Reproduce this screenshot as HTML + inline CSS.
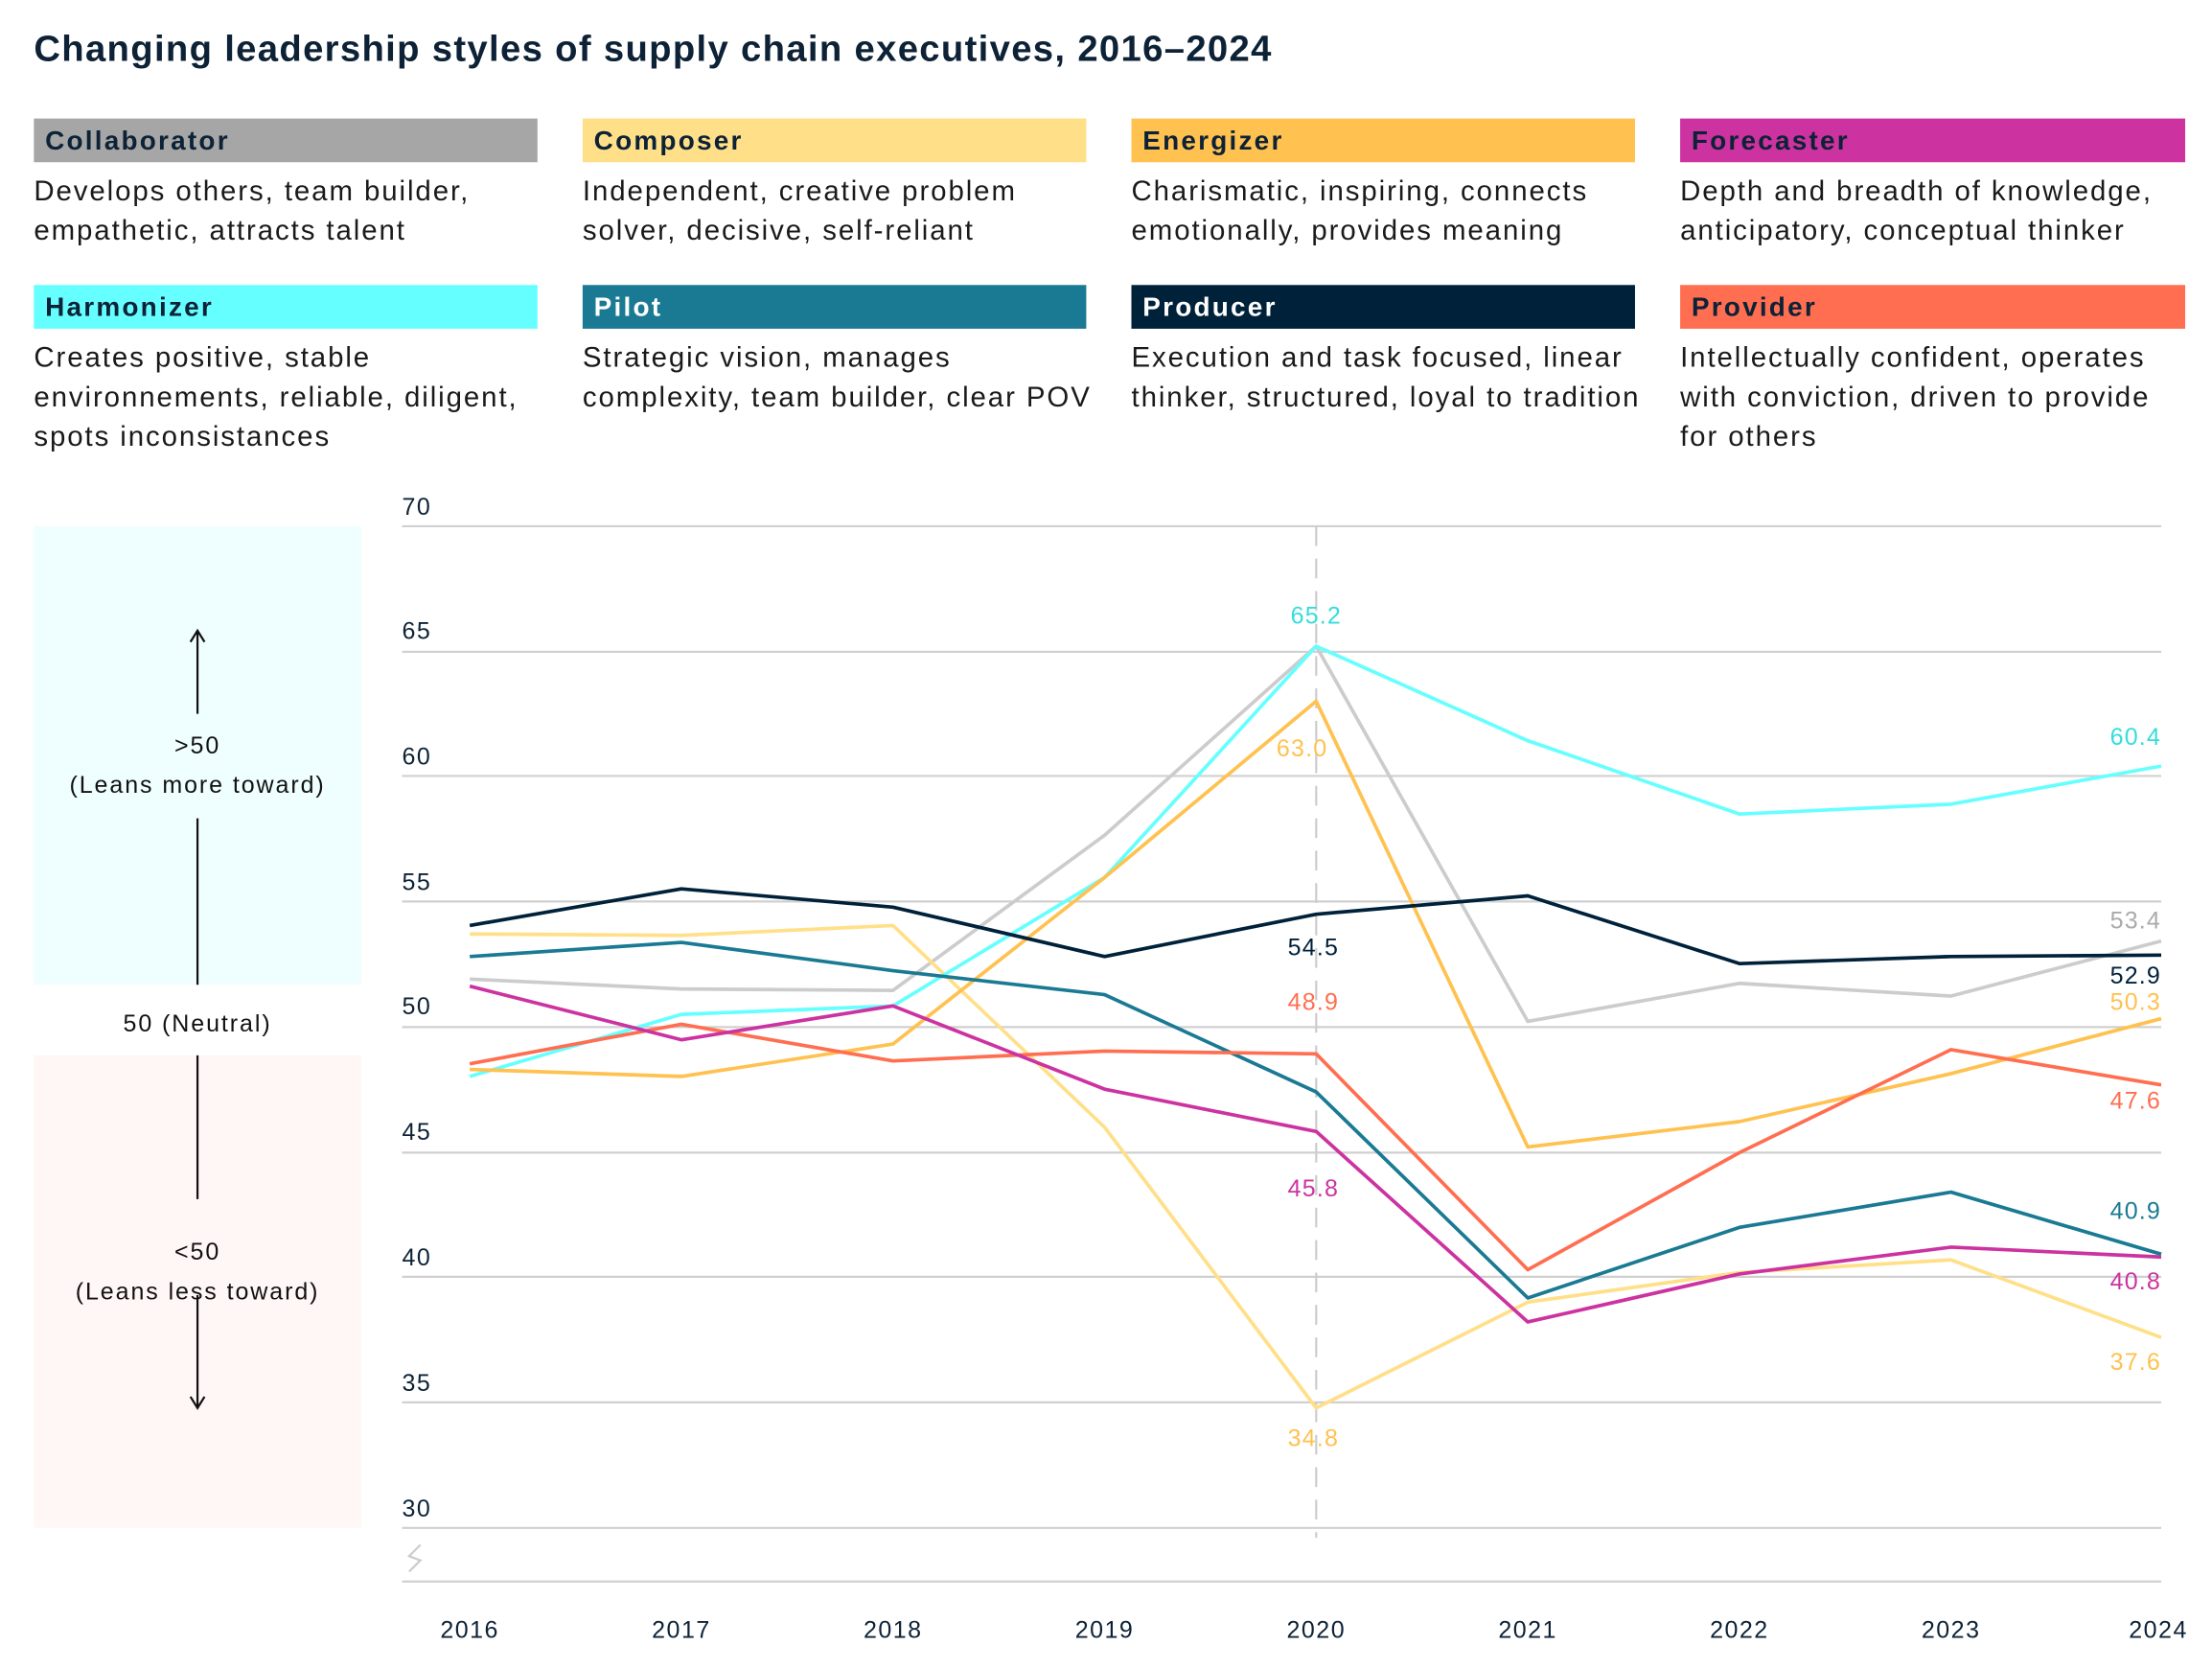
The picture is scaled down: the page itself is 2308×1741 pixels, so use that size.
<!DOCTYPE html>
<html><head><meta charset="utf-8"><style>
html,body{margin:0;padding:0;background:#fff;}
svg{display:block;font-family:"Liberation Sans",sans-serif;}
</style></head><body>
<svg width="2308" height="1741" viewBox="0 0 1568 1183" preserveAspectRatio="none">
<text x="24" y="43" font-size="26" font-weight="bold" fill="#0d2236" letter-spacing="0.9">Changing leadership styles of supply chain executives, 2016–2024</text>
<g font-size="20" letter-spacing="1.3">
<rect x="24" y="84" width="357" height="31" fill="#a6a6a6"/><text x="32" y="106" font-weight="bold" fill="#0d2236" font-size="19" letter-spacing="1.5">Collaborator</text>
<text x="24" y="142" fill="#1a1a1a">Develops others, team builder,</text><text x="24" y="170" fill="#1a1a1a">empathetic, attracts talent</text>
<rect x="413" y="84" width="357" height="31" fill="#ffdf88"/><text x="421" y="106" font-weight="bold" fill="#0d2236" font-size="19" letter-spacing="1.5">Composer</text>
<text x="413" y="142" fill="#1a1a1a">Independent, creative problem</text><text x="413" y="170" fill="#1a1a1a">solver, decisive, self-reliant</text>
<rect x="802" y="84" width="357" height="31" fill="#ffc150"/><text x="810" y="106" font-weight="bold" fill="#0d2236" font-size="19" letter-spacing="1.5">Energizer</text>
<text x="802" y="142" fill="#1a1a1a">Charismatic, inspiring, connects</text><text x="802" y="170" fill="#1a1a1a">emotionally, provides meaning</text>
<rect x="1191" y="84" width="358" height="31" fill="#cc33a0"/><text x="1199" y="106" font-weight="bold" fill="#0d2236" font-size="19" letter-spacing="1.5">Forecaster</text>
<text x="1191" y="142" fill="#1a1a1a">Depth and breadth of knowledge,</text><text x="1191" y="170" fill="#1a1a1a">anticipatory, conceptual thinker</text>
<rect x="24" y="202" width="357" height="31" fill="#66ffff"/><text x="32" y="224" font-weight="bold" fill="#0d2236" font-size="19" letter-spacing="1.5">Harmonizer</text>
<text x="24" y="260" fill="#1a1a1a">Creates positive, stable</text><text x="24" y="288" fill="#1a1a1a">environnements, reliable, diligent,</text><text x="24" y="316" fill="#1a1a1a">spots inconsistances</text>
<rect x="413" y="202" width="357" height="31" fill="#1a7a93"/><text x="421" y="224" font-weight="bold" fill="#fff" font-size="19" letter-spacing="1.5">Pilot</text>
<text x="413" y="260" fill="#1a1a1a">Strategic vision, manages</text><text x="413" y="288" fill="#1a1a1a">complexity, team builder, clear POV</text>
<rect x="802" y="202" width="357" height="31" fill="#00213a"/><text x="810" y="224" font-weight="bold" fill="#fff" font-size="19" letter-spacing="1.5">Producer</text>
<text x="802" y="260" fill="#1a1a1a">Execution and task focused, linear</text><text x="802" y="288" fill="#1a1a1a">thinker, structured, loyal to tradition</text>
<rect x="1191" y="202" width="358" height="31" fill="#ff6e50"/><text x="1199" y="224" font-weight="bold" fill="#0d2236" font-size="19" letter-spacing="1.5">Provider</text>
<text x="1191" y="260" fill="#1a1a1a">Intellectually confident, operates</text><text x="1191" y="288" fill="#1a1a1a">with conviction, driven to provide</text><text x="1191" y="316" fill="#1a1a1a">for others</text>
</g>
<rect x="24" y="373" width="232" height="325" fill="#effefe"/>
<rect x="24" y="748" width="232" height="335" fill="#fff7f6"/>
<g stroke="#111" stroke-width="1.5" fill="none">
<line x1="140" y1="448" x2="140" y2="506"/><polyline points="135,455 140,447 145,455"/>
<line x1="140" y1="580" x2="140" y2="698"/>
<line x1="140" y1="748" x2="140" y2="850"/>
<line x1="140" y1="918" x2="140" y2="997"/><polyline points="135,990 140,998 145,990"/>
</g>
<g font-size="17" fill="#111" text-anchor="middle" letter-spacing="1.3">
<text x="140" y="534">&gt;50</text><text x="140" y="562">(Leans more toward)</text>
<text x="140" y="731">50 (Neutral)</text>
<text x="140" y="893">&lt;50</text><text x="140" y="921">(Leans less toward)</text>
</g>
<g stroke="#d0d0d0" stroke-width="1.5">
<line x1="285" y1="373" x2="1532" y2="373"/><line x1="285" y1="462" x2="1532" y2="462"/>
<line x1="285" y1="550" x2="1532" y2="550"/><line x1="285" y1="639" x2="1532" y2="639"/>
<line x1="285" y1="728" x2="1532" y2="728"/><line x1="285" y1="817" x2="1532" y2="817"/>
<line x1="285" y1="905" x2="1532" y2="905"/><line x1="285" y1="994" x2="1532" y2="994"/>
<line x1="285" y1="1083" x2="1532" y2="1083"/><line x1="285" y1="1121" x2="1532" y2="1121"/>
</g>
<polyline points="298,1095 290,1103 298,1106 290,1114" stroke="#ccc" stroke-width="1.5" fill="none"/>
<line x1="933" y1="373" x2="933" y2="1090" stroke="#ccc" stroke-width="1.5" stroke-dasharray="14,9"/>
<g font-size="17" fill="#0d2236" letter-spacing="1">
<text x="285" y="365">70</text><text x="285" y="453">65</text><text x="285" y="542">60</text>
<text x="285" y="631">55</text><text x="285" y="719">50</text><text x="285" y="808">45</text>
<text x="285" y="897">40</text><text x="285" y="986">35</text><text x="285" y="1075">30</text>
</g>
<g font-size="17" fill="#0d2236" text-anchor="middle" letter-spacing="1">
<text x="333" y="1161">2016</text><text x="483" y="1161">2017</text><text x="633" y="1161">2018</text>
<text x="783" y="1161">2019</text><text x="933" y="1161">2020</text><text x="1083" y="1161">2021</text>
<text x="1233" y="1161">2022</text><text x="1383" y="1161">2023</text><text x="1530" y="1161">2024</text>
</g>
<g fill="none" stroke-width="2.5" stroke-linejoin="round">
<polyline stroke="#cccccc" points="333,694 483,701 633,702 783,592 933,458 1083,724 1233,697 1383,706 1532,667"/>
<polyline stroke="#ffdf88" points="333,662 483,663 633,656 783,799 933,998 1083,923 1233,902 1383,893 1532,948"/>
<polyline stroke="#66ffff" points="333,763 483,719 633,713 783,622 933,458 1083,525 1233,577 1383,570 1532,543"/>
<polyline stroke="#ffc150" points="333,758 483,763 633,740 783,622 933,497 1083,813 1233,795 1383,761 1532,722"/>
<polyline stroke="#1a7a93" points="333,678 483,668 633,688 783,705 933,774 1083,920 1233,870 1383,845 1532,889"/>
<polyline stroke="#ff6e50" points="333,754 483,726 633,752 783,745 933,747 1083,900 1233,817 1383,744 1532,769"/>
<polyline stroke="#cc33a0" points="333,699 483,737 633,713 783,772 933,802 1083,937 1233,903 1383,884 1532,891"/>
<polyline stroke="#00213a" points="333,656 483,630 633,643 783,678 933,648 1083,635 1233,683 1383,678 1532,677"/>
</g>
<g font-size="17" text-anchor="middle" letter-spacing="0.8">
<text x="933" y="442" fill="#33dddd">65.2</text>
<text x="923" y="536" fill="#ffc150">63.0</text>
<text x="931" y="677" fill="#00213a">54.5</text>
<text x="931" y="716" fill="#ff6e50">48.9</text>
<text x="931" y="848" fill="#cc33a0">45.8</text>
<text x="931" y="1025" fill="#ffc150">34.8</text>
</g>
<g font-size="17" text-anchor="end" letter-spacing="0.8">
<text x="1532" y="528" fill="#33dddd">60.4</text>
<text x="1532" y="658" fill="#aaaaaa">53.4</text>
<text x="1532" y="697" fill="#00213a">52.9</text>
<text x="1532" y="716" fill="#ffc150">50.3</text>
<text x="1532" y="786" fill="#ff6e50">47.6</text>
<text x="1532" y="864" fill="#1a7a93">40.9</text>
<text x="1532" y="914" fill="#cc33a0">40.8</text>
<text x="1532" y="971" fill="#ffc150">37.6</text>
</g>
</svg>
</body></html>
